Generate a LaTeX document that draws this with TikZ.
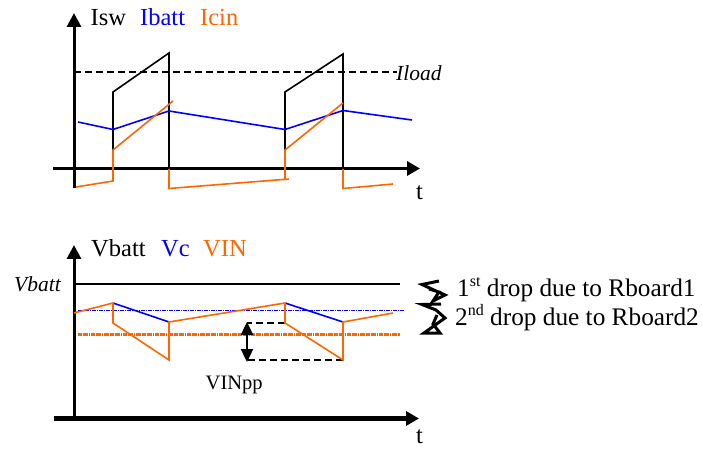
\documentclass[tikz,border=0pt]{standalone}
\usepackage{fontspec}
\setmainfont{Liberation Serif}
\usetikzlibrary{arrows.meta}
\definecolor{orng}{RGB}{255,102,0}
\definecolor{blu}{RGB}{0,0,255}
\newcommand{\supr}[1]{\raisebox{0.42em}{\fontsize{16}{16}\selectfont #1}}
\tikzset{
  x=1pt,y=-1pt,
  axisy/.style={line width=3pt,-{Triangle[length=14pt,width=14pt]}},
  axisx/.style={line width=3.4pt,-{Triangle[length=13pt,width=14pt]}},
  sig/.style={line width=1.6pt,line join=miter},
  sigk/.style={sig,black},
  sigb/.style={sig,blu},
  sigo/.style={sig,orng},
  dashk/.style={line width=2pt,dash pattern=on 7pt off 4pt},
  big/.style={anchor=base west,inner sep=0pt,font=\fontsize{24.5}{24.5}\selectfont},
  drop/.style={anchor=base west,inner sep=0pt,font=\fontsize{25.3}{25.3}\selectfont},
  med/.style={anchor=base west,inner sep=0pt,font=\fontsize{20.5}{20.5}\selectfont},
  ital/.style={anchor=base west,inner sep=0pt,font=\fontsize{21.5}{21.5}\selectfont\itshape},
  squig/.style={line width=3pt,line join=miter}
}
\begin{document}
\begin{tikzpicture}
\useasboundingbox (0,0) rectangle (702,449);
% top chart
\draw[dashk] (74,72) -- (397,72);
\draw[sigk] (113,168) -- (113,92) -- (169,53) -- (169,168);
\draw[sigk] (285,168) -- (285,92) -- (343,54) -- (343,168);
\draw[sigb] (78,122) -- (113,129.5) -- (169,111) -- (285,129.5) -- (343,110.5) -- (412,120);
\draw[axisy] (74,188) -- (74,13);
\draw[axisx] (53,168.5) -- (420,168.5);
\draw[sigo] (76,187) -- (113,181) -- (113,150) -- (173,101);
\draw[sigo] (169,169) -- (169,188.5) -- (289,179);
\draw[sigo] (285,179) -- (285,150) -- (343,103);
\draw[sigo] (343,169) -- (343,188.5) -- (393,184);
\node[big] (isw) at (90.5,26) {Isw};
\node[big,text=blu] (ibatt) at (140,26) {Ibatt};
\node[big,text=orng] (icin) at (200,26) {Icin};
\node[ital] (iload) at (396,81) {Iload};
\node[big] (t1) at (416,200) {t};
% bottom chart
\draw[sigk] (74,284) -- (400,284);
\draw[blu,line width=1pt,dash pattern=on 4pt off 1pt on 1pt off 1pt] (78,311) -- (404,311);
\draw[orng,line width=2.6pt,dash pattern=on 4pt off 0.7pt on 1pt off 0.7pt] (78,334.5) -- (400,334.5);
\draw[axisy] (74,419) -- (74,245);
\draw[axisx,line width=4.4pt] (54,418.5) -- (419,418.5);
\draw[sigb] (113,303) -- (169,322);
\draw[sigb] (285,303) -- (343,322);
\draw[dashk] (285,323) -- (247,323);
\draw[dashk] (343,360) -- (247,360);
\draw[line width=2.4pt,{Triangle[length=13pt,width=12pt]}-{Triangle[length=13pt,width=12pt]}] (247,322) -- (247,362);
\draw[sigo] (74,313) -- (113,303) -- (113,323) -- (169,360) -- (169,322) -- (285,303) -- (285,323) -- (343,360) -- (343,322) -- (393,313);
\node[big] (vb) at (91,257) {Vbatt};
\node[big,text=blu] (vc) at (161,257) {Vc};
\node[big,text=orng] (vin) at (203,257) {VIN};
\node[ital] (vbl) at (14,292) {Vbatt};
\node[med] (vpp) at (205.5,389) {VINpp};
\node[big] (t2) at (416,443.5) {t};
% squiggles
\draw[squig] (439,281) -- (422,284.5) -- (436,291) -- (445,295) -- (433,301) -- (439,292) -- (429,289);
\draw[squig] (441,304) -- (422,304.5) -- (436,310) -- (445,318) -- (424,333) -- (440,333) -- (433,324) -- (437,315);
\node[drop] (d1) at (457,297) {1\supr{st} drop due to Rboard1};
\node[drop] (d2) at (455,325.7) {2\supr{nd} drop due to Rboard2};
\end{tikzpicture}
\end{document}
